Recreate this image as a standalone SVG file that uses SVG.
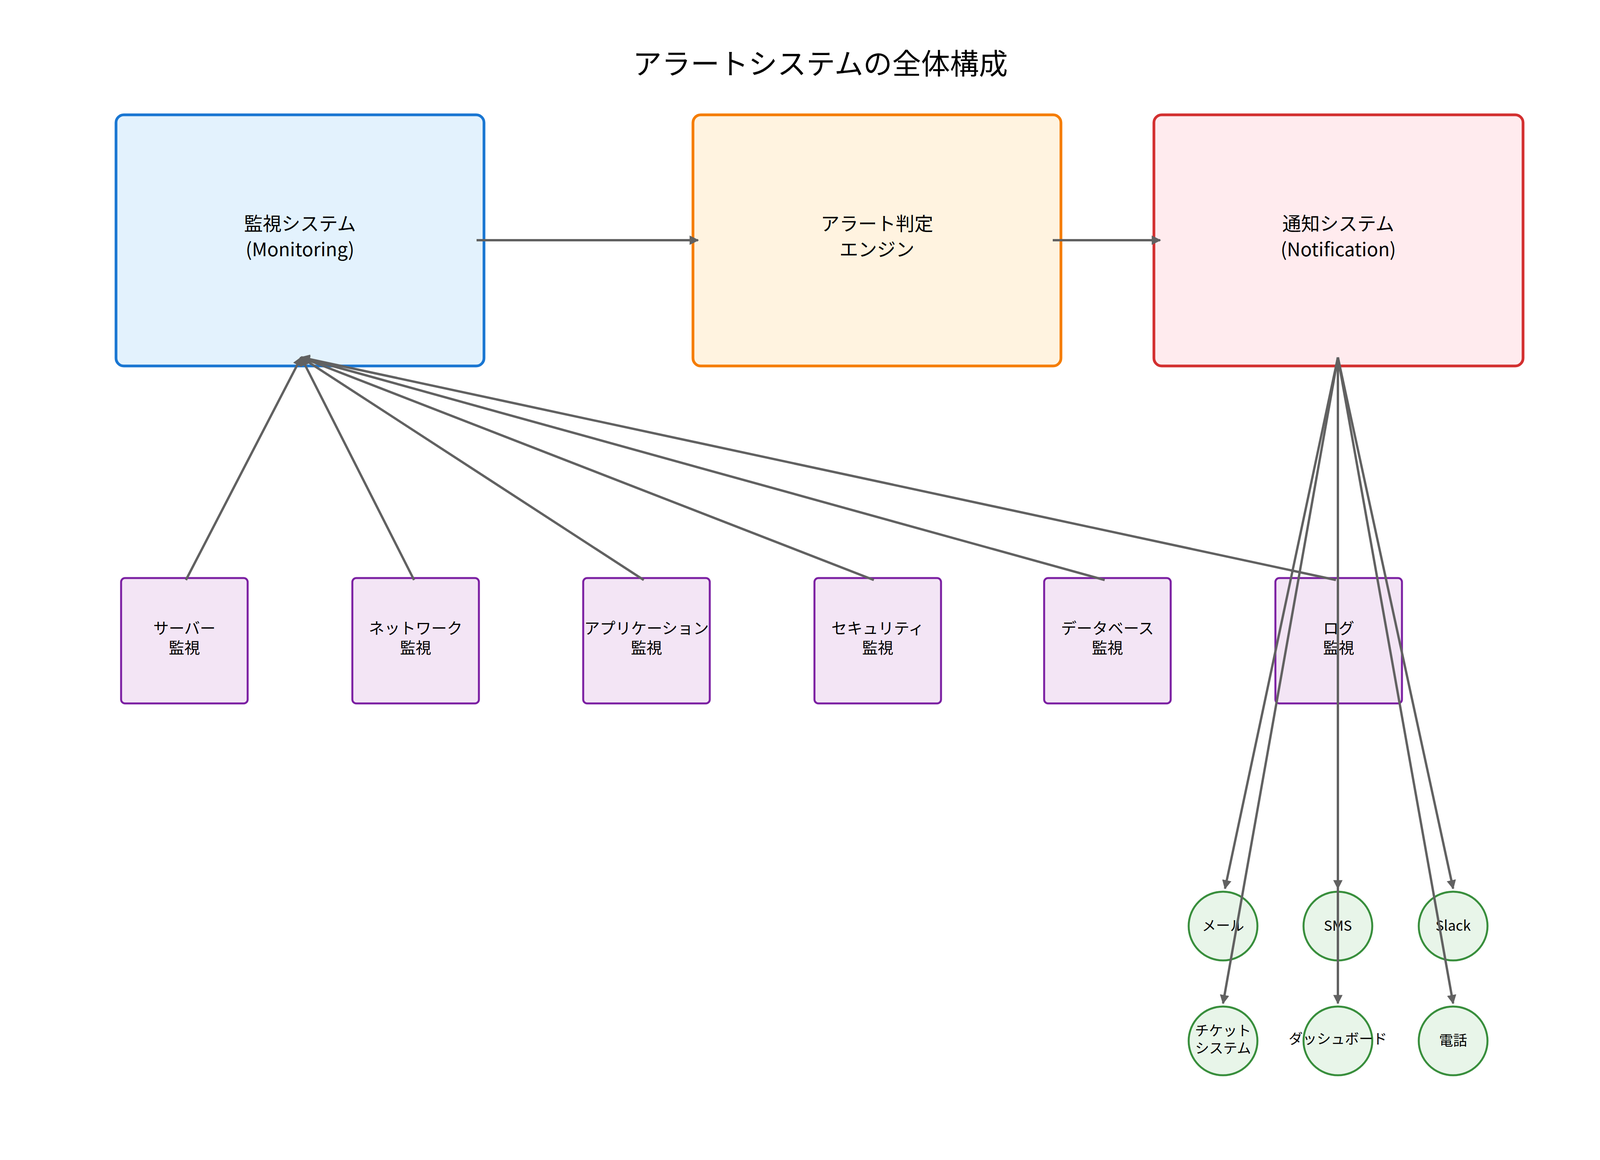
<svg xmlns="http://www.w3.org/2000/svg" width="4170" height="2970" viewBox="0 0 4170 2970">
<style>
text{font-family:"Noto Sans CJK JP","Noto Sans",sans-serif;text-anchor:middle;fill:#000}
.big{font-size:48px}.sm{font-size:40px}.c{font-size:36px}
.b rect{stroke-width:7}
.s rect{fill:#f3e5f5;stroke:#7b1fa2;stroke-width:5}
.o circle{fill:#e8f5e9;stroke:#388e3c;stroke-width:5}
.e line{stroke:#616161;stroke-width:6;marker-end:url(#a)}
</style>
<defs><marker id="a" viewBox="0 0 10 10" refX="9" refY="5" markerWidth="4" markerHeight="4" orient="auto"><path d="M0,0L10,5L0,10z" fill="#616161"/></marker></defs>
<rect width="4170" height="2970" fill="#fff"/>
<text x="2100" y="190" style="font-size:74px">アラートシステムの全体構成</text>
<g id="monitoring" class="b"><rect x="297" y="294" width="942" height="643" rx="20" fill="#e3f2fd" stroke="#1976d2"/><text class="big" x="768" y="590">監視システム</text><text class="big" x="768" y="656">(Monitoring)</text></g>
<g id="engine" class="b"><rect x="1774" y="294" width="942" height="643" rx="20" fill="#fff3e0" stroke="#f57c00"/><text class="big" x="2245" y="590">アラート判定</text><text class="big" x="2245" y="656">エンジン</text></g>
<g id="notification" class="b"><rect x="2954" y="294" width="945" height="643" rx="20" fill="#ffebee" stroke="#d32f2f"/><text class="big" x="3426" y="590">通知システム</text><text class="big" x="3426" y="656">(Notification)</text></g>
<g id="server" class="s"><rect x="310" y="1480" width="324" height="321" rx="10"/><text class="sm" x="472" y="1623">サーバー</text><text class="sm" x="472" y="1673">監視</text></g>
<g id="network" class="s"><rect x="902" y="1480" width="324" height="321" rx="10"/><text class="sm" x="1064" y="1623">ネットワーク</text><text class="sm" x="1064" y="1673">監視</text></g>
<g id="app" class="s"><rect x="1493" y="1480" width="324" height="321" rx="10"/><text class="sm" x="1655" y="1623">アプリケーション</text><text class="sm" x="1655" y="1673">監視</text></g>
<g id="security" class="s"><rect x="2085" y="1480" width="324" height="321" rx="10"/><text class="sm" x="2247" y="1623">セキュリティ</text><text class="sm" x="2247" y="1673">監視</text></g>
<g id="database" class="s"><rect x="2673" y="1480" width="324" height="321" rx="10"/><text class="sm" x="2835" y="1623">データベース</text><text class="sm" x="2835" y="1673">監視</text></g>
<g id="log" class="s"><rect x="3265" y="1480" width="324" height="321" rx="10"/><text class="sm" x="3427" y="1623">ログ</text><text class="sm" x="3427" y="1673">監視</text></g>
<g id="mail" class="o"><circle cx="3131" cy="2371" r="88"/><text class="c" x="3131" y="2383">メール</text></g>
<g id="sms" class="o"><circle cx="3425" cy="2371" r="88"/><text class="c" x="3425" y="2383">SMS</text></g>
<g id="slack" class="o"><circle cx="3720" cy="2371" r="88"/><text class="c" x="3720" y="2383">Slack</text></g>
<g id="ticket" class="o"><circle cx="3131" cy="2665" r="88"/><text class="c" x="3131" y="2652">チケット</text><text class="c" x="3131" y="2697">システム</text></g>
<g id="dashboard" class="o"><circle cx="3425" cy="2665" r="88"/><text class="c" x="3425" y="2673">ダッシュボード</text></g>
<g id="phone" class="o"><circle cx="3720" cy="2665" r="88"/><text class="c" x="3720" y="2677">電話</text></g>
<g id="connectors" class="e">
<line x1="1220" y1="615" x2="1787" y2="615"/>
<line x1="2695" y1="615" x2="2970" y2="615"/>
<line x1="476" y1="1485" x2="771" y2="915"/>
<line x1="1060" y1="1485" x2="771" y2="915"/>
<line x1="1648" y1="1485" x2="771" y2="915"/>
<line x1="2237" y1="1485" x2="771" y2="915"/>
<line x1="2828" y1="1485" x2="771" y2="915"/>
<line x1="3420" y1="1485" x2="771" y2="915"/>
<line x1="3425" y1="915" x2="3136" y2="2275"/>
<line x1="3425" y1="915" x2="3425" y2="2275"/>
<line x1="3425" y1="915" x2="3720" y2="2275"/>
<line x1="3425" y1="915" x2="3131" y2="2569"/>
<line x1="3425" y1="915" x2="3425" y2="2569"/>
<line x1="3425" y1="915" x2="3720" y2="2569"/>
</g>
</svg>
